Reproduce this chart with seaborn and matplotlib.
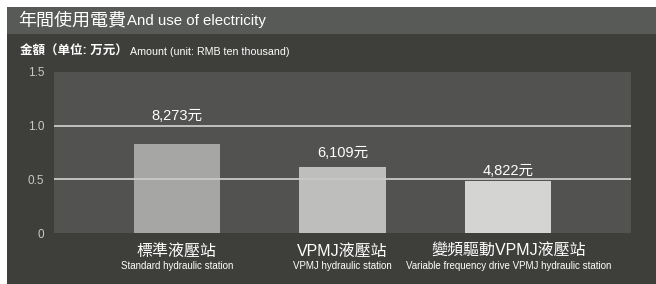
import matplotlib
matplotlib.use("Agg")
import matplotlib.pyplot as plt
import matplotlib.transforms as mtransforms
from matplotlib.patches import Rectangle
import seaborn as sns
import pandas as pd

categories_zh = ["標準液壓站", "VPMJ液壓站", "變頻驅動VPMJ液壓站"]
categories_en = ["Standard hydraulic station", "VPMJ hydraulic station",
                 "Variable frequency drive VPMJ hydraulic station"]
values = [0.8273, 0.6109, 0.4822]
value_labels = ["8,273元", "6,109元", "4,822元"]
yticks = [0, 0.5, 1.0, 1.5]
ytick_labels = ["0", "0.5", "1.0", "1.5"]

bar_colors = ["#a6a6a4", "#bebebc", "#d4d4d2"]
label_offsets_px = [28, 14, 10]

sns.set_theme(style="white")
plt.rcParams["font.family"] = ["Liberation Sans", "Noto Sans CJK TC", "DejaVu Sans"]

W, H = 656, 284
fig = plt.figure(figsize=(W / 100, H / 100), dpi=100)
fig.patch.set_facecolor("white")

def px_rect(x0, y0, x1, y1, color):
    fig.patches.append(Rectangle((x0 / W, 1 - y1 / H), (x1 - x0) / W, (y1 - y0) / H,
                                 transform=fig.transFigure, facecolor=color,
                                 edgecolor="none", zorder=-5))

px_rect(7, 7, 656, 284, "#3e3e3b")
px_rect(7, 7, 656, 34, "#585a58")

fig.canvas.draw()

def text_pair(x, y, a, b, sa, sb, wa="normal", gap=0.002):
    t = fig.text(x, y, a, color="white", fontsize=sa, va="center", ha="left",
                 fontweight=wa)
    fig.canvas.draw()
    bb = t.get_window_extent()
    fig.text(bb.x1 / W + gap, y, b, color="white", fontsize=sb,
             va="center", ha="left")

text_pair(18 / W, 1 - 21 / H, "年間使用電費", "And use of electricity", 13, 10.8)
text_pair(20 / W, 1 - 52 / H, "金額（单位: 万元）", "Amount (unit: RMB ten thousand)",
          9, 7.7, wa="bold", gap=0.004)

ax = fig.add_axes([54 / W, 1 - 233 / H, 577 / W, 161 / H])
ax.set_zorder(1)
ax.set_facecolor("#525350")

df = pd.DataFrame({"cat": categories_zh, "val": values})
sns.barplot(data=df, x="cat", y="val", hue="cat", palette=bar_colors,
            width=0.52, saturation=1, legend=False, ax=ax, zorder=2,
            linewidth=0, edgecolor="none")

ax.set_xlim(-0.74, 2.74)
ax.set_ylim(0, 1.5)
for g in [0.5, 1.0]:
    ax.axhline(g, color="#c9c9c7", lw=1.3, zorder=3)

for s in ax.spines.values():
    s.set_visible(False)
ax.set_yticks(yticks)
ax.set_yticklabels(ytick_labels, color="#c8c8c6", fontsize=8.5)
ax.tick_params(axis="y", length=0, pad=7)
ax.set_xticks([])
ax.set_xlabel("")
ax.set_ylabel("")

for i, (v, lab, off) in enumerate(zip(values, value_labels, label_offsets_px)):
    ax.annotate(lab, (i, v), xytext=(0, off * 0.72), textcoords="offset points",
                ha="center", va="center", color="white", fontsize=10.5)

trans = mtransforms.blended_transform_factory(ax.transData, fig.transFigure)
for i, (zh, en) in enumerate(zip(categories_zh, categories_en)):
    fig.text(i, 1 - 251 / H, zh, transform=trans, ha="center", va="center",
             color="white", fontsize=11.5)
    fig.text(i, 1 - 266 / H, en, transform=trans, ha="center", va="center",
             color="white", fontsize=7.0)

fig.savefig("out.png", dpi=100, facecolor=fig.get_facecolor())
